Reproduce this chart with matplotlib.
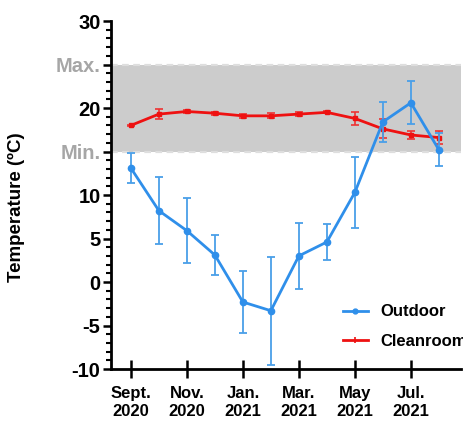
import matplotlib
matplotlib.use("Agg")
import matplotlib.pyplot as plt
from matplotlib.lines import Line2D
from matplotlib.ticker import MultipleLocator, FixedLocator

plt.rcParams['font.family'] = ['Liberation Sans', 'DejaVu Sans']
plt.rcParams['font.weight'] = 'bold'

# Monthly means, Sept. 2020 - Aug. 2021
months = ["Sep 2020", "Oct 2020", "Nov 2020", "Dec 2020", "Jan 2021", "Feb 2021",
          "Mar 2021", "Apr 2021", "May 2021", "Jun 2021", "Jul 2021", "Aug 2021"]
outdoor = [13.1, 8.2, 5.9, 3.1, -2.3, -3.3, 3.0, 4.6, 10.3, 18.4, 20.6, 15.2]
outdoor_err = [1.7, 3.85, 3.7, 2.25, 3.6, 6.2, 3.8, 2.1, 4.1, 2.3, 2.45, 1.9]
cleanroom = [18.0, 19.3, 19.6, 19.4, 19.1, 19.1, 19.3, 19.5, 18.8, 17.6, 16.9, 16.6]
cleanroom_err = [0.1, 0.6, 0.2, 0.15, 0.2, 0.3, 0.2, 0.1, 0.7, 1.1, 0.5, 0.7]

# Target temperature window
t_min, t_max = 15, 25

tick_pos = [0, 2, 4, 6, 8, 10]
tick_labels = ["Sept.\n2020", "Nov.\n2020", "Jan.\n2021", "Mar.\n2021", "May\n2021", "Jul.\n2021"]
y_ticks = [-10, -5, 0, 5, 10, 15, 20, 25, 30]
y_labels = ["-10", "-5", "0", "5", "10", "Min.", "20", "Max.", "30"]

blue = '#2f8fea'
red = '#ee1111'

fig = plt.figure(figsize=(4.64, 4.21), dpi=100)
ax = fig.add_axes([0.2392, 0.1235, 0.7543, 0.8266])

x = list(range(len(months)))

ax.axhspan(t_min, t_max, color='#cccccc', zorder=0, lw=0)
for yv in (t_min, t_max):
    ax.axhline(yv, color='#dedede', lw=1.6, ls=(0, (3, 2)), zorder=1)

ax.errorbar(x, cleanroom, yerr=cleanroom_err, color=red, ecolor='#ee3333',
            lw=2, elinewidth=1.2, capsize=3, capthick=1.2, marker='s', ms=3,
            zorder=3)
ax.errorbar(x, outdoor, yerr=outdoor_err, color=blue, ecolor='#4a9fe8',
            lw=2, elinewidth=1.3, capsize=3, capthick=1.3, marker='o', ms=4.5,
            zorder=4)

ax.set_xlim(-0.71, 11.79)
ax.set_ylim(-10, 30)

ax.yaxis.set_major_locator(FixedLocator(y_ticks))
ax.set_yticklabels(y_labels, fontsize=14.5, fontweight='bold')
for lab, txt in zip(ax.get_yticklabels(), y_labels):
    if txt in ("Min.", "Max."):
        lab.set_color('#a6a6a6')
ax.yaxis.set_minor_locator(MultipleLocator(1))
ax.tick_params(axis='y', which='major', direction='out', length=6, width=1.8, pad=1.5)
ax.tick_params(axis='y', which='minor', direction='out', length=3.5, width=1.5)

ax.set_xticks(tick_pos)
ax.set_xticklabels(tick_labels, fontsize=12, fontweight='bold', linespacing=1.25)
ax.tick_params(axis='x', which='major', direction='inout', length=13, width=1.8, pad=6)

for side in ('top', 'right'):
    ax.spines[side].set_visible(False)
for side in ('left', 'bottom'):
    ax.spines[side].set_linewidth(2)

ax.set_ylabel("Temperature (ºC)", fontsize=13.5, fontweight='bold')
ax.yaxis.set_label_coords(-0.246, 0.466)

handles = [Line2D([], [], color=blue, lw=2, marker='o', ms=3.5),
           Line2D([], [], color=red, lw=2, marker='|', ms=4, mew=1.2)]
ax.legend(handles, ["Outdoor", "Cleanroom"], loc='upper left', bbox_to_anchor=(0.645, 0.205),
          frameon=False, fontsize=12, handlelength=1.45, handletextpad=0.75,
          labelspacing=0.85, borderaxespad=0)

fig.savefig("out.png", dpi=100)
